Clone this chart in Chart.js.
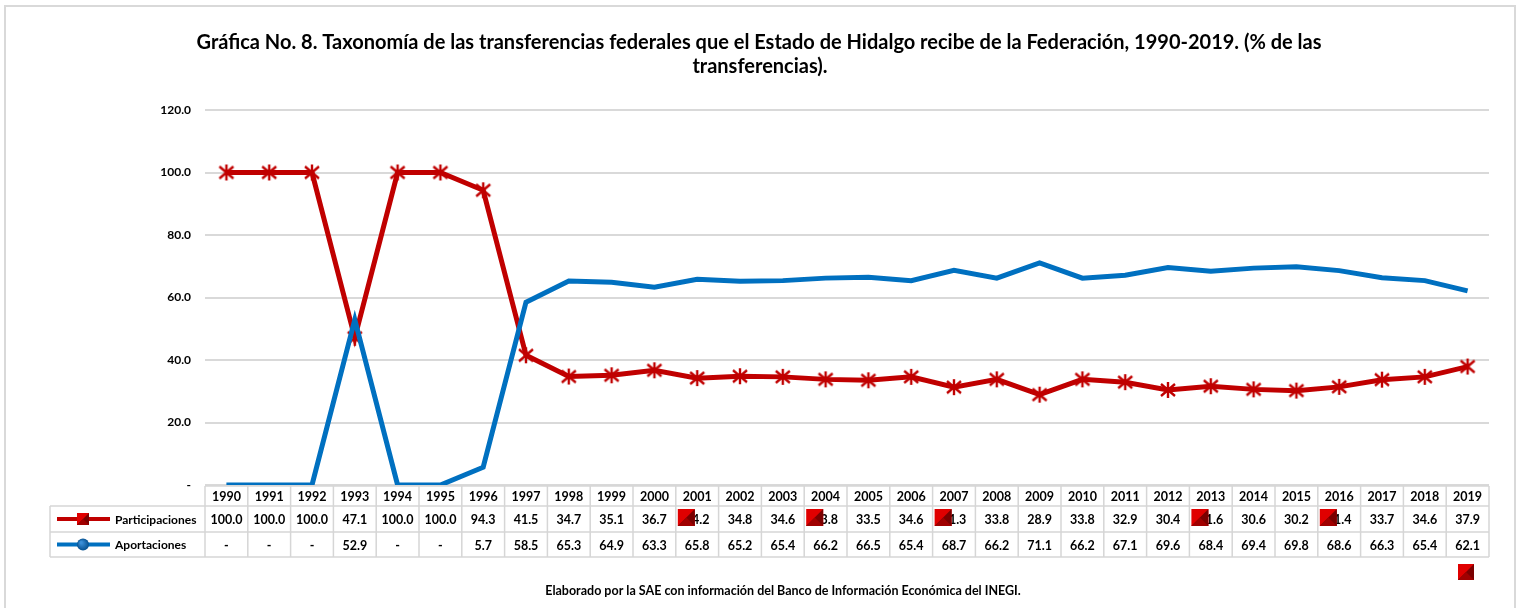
<!DOCTYPE html>
<html>
<head>
<meta charset="utf-8">
<script src="https://cdn.jsdelivr.net/npm/chart.js@4"></script>
<style>
  body { margin: 0; background: #fff; }
  #wrap { width: 1523px; height: 608px; }
</style>
</head>
<body>
<div id="wrap"><canvas id="transfChart" width="1523" height="608"></canvas></div>
<script>
const years = ['1990','1991','1992','1993','1994','1995','1996','1997','1998','1999',
  '2000','2001','2002','2003','2004','2005','2006','2007','2008','2009',
  '2010','2011','2012','2013','2014','2015','2016','2017','2018','2019'];
const participaciones = [100.0, 100.0, 100.0, 47.1, 100.0, 100.0, 94.3, 41.5, 34.7, 35.1,
  36.7, 34.2, 34.8, 34.6, 33.8, 33.5, 34.6, 31.3, 33.8, 28.9,
  33.8, 32.9, 30.4, 31.6, 30.6, 30.2, 31.4, 33.7, 34.6, 37.9];
const aportaciones = [0, 0, 0, 52.9, 0, 0, 5.7, 58.5, 65.3, 64.9,
  63.3, 65.8, 65.2, 65.4, 66.2, 66.5, 65.4, 68.7, 66.2, 71.1,
  66.2, 67.1, 69.6, 68.4, 69.4, 69.8, 68.6, 66.3, 65.4, 62.1];
const yMin = 0, yMax = 120, yStep = 20;
// cells where the stray excel legend marker sits on top of the value
const coveredCells = ['2001', '2004', '2007', '2013', '2016'];

const titleLines = ['Gráfica No. 8. Taxonomía de las transferencias federales que el Estado de Hidalgo recibe de la Federación, 1990-2019. (% de las',
  'transferencias).'];
const sourceNote = 'Elaborado por la SAE con información del Banco de Información Económica del INEGI.';

const RED = '#C00000';
const BLUE = '#0070C0';
const FONT = 'Lato, "Open Sans", sans-serif';

const fmt = v => (v === 0 ? '-' : v.toFixed(1));

// asterisk marker (x + vertical stroke)
const star = document.createElement('canvas');
star.width = 18; star.height = 18;
(() => {
  const c = star.getContext('2d');
  c.strokeStyle = RED; c.lineWidth = 2.4;
  c.beginPath();
  c.moveTo(2, 3); c.lineTo(16, 15);
  c.moveTo(16, 3); c.lineTo(2, 15);
  c.moveTo(9, 1); c.lineTo(9, 17);
  c.stroke();
})();

function redSquare(ctx, x, y, s) {
  ctx.fillStyle = '#E00000';
  ctx.fillRect(x, y, s, s);
  ctx.fillStyle = '#7A0000';
  ctx.beginPath();
  ctx.moveTo(x + s, y); ctx.lineTo(x + s, y + s); ctx.lineTo(x, y + s);
  ctx.lineTo(x + s / 2, y + s / 2); ctx.closePath(); ctx.fill();
  ctx.fillStyle = '#A00000';
  ctx.beginPath();
  ctx.moveTo(x, y + s); ctx.lineTo(x + s / 2, y + s / 2); ctx.lineTo(x + s, y + s);
  ctx.closePath(); ctx.fill();
}

const frameAndTable = {
  id: 'frameAndTable',
  beforeDraw(chart) {
    const ctx = chart.ctx;
    ctx.save();
    ctx.fillStyle = '#fff';
    ctx.fillRect(0, 0, chart.width, chart.height);
    ctx.strokeStyle = '#d9d9d9';
    ctx.lineWidth = 2;
    ctx.strokeRect(5, 6, 1510, 640);

    // title (centred on the frame, not on the plot)
    ctx.fillStyle = '#000';
    ctx.font = 'bold 20px ' + FONT;
    ctx.textAlign = 'center';
    ctx.textBaseline = 'middle';
    ctx.fillText(titleLines[0], 759, 43);
    ctx.fillText(titleLines[1], 760, 67);
    ctx.restore();
  },
  afterDraw(chart) {
    const ctx = chart.ctx;
    const xs = chart.scales.x;
    const area = chart.chartArea;
    const half = (xs.getPixelForValue(1) - xs.getPixelForValue(0)) / 2;
    const top = area.bottom + 1;
    const r1 = top + 20, r2 = r1 + 26, r3 = r2 + 25;
    const left = 50;

    ctx.save();
    ctx.strokeStyle = '#d6d6d6';
    ctx.lineWidth = 1.5;
    ctx.beginPath();
    ctx.moveTo(area.left, top); ctx.lineTo(area.right, top);
    ctx.moveTo(left, r1); ctx.lineTo(area.right, r1);
    ctx.moveTo(left, r2); ctx.lineTo(area.right, r2);
    ctx.moveTo(left, r3); ctx.lineTo(area.right, r3);
    ctx.moveTo(left, r1); ctx.lineTo(left, r3);
    ctx.moveTo(area.left, top); ctx.lineTo(area.left, r3);
    years.forEach((y, i) => {
      const xr = xs.getPixelForValue(i) + half;
      ctx.moveTo(xr, top); ctx.lineTo(xr, r3);
    });
    ctx.stroke();

    ctx.fillStyle = '#000';
    ctx.font = 'bold 12.5px ' + FONT;
    ctx.textAlign = 'center';
    ctx.textBaseline = 'middle';
    years.forEach((y, i) => {
      const cx = xs.getPixelForValue(i);
      ctx.fillText(y, cx, (top + r1) / 2 + 1);
      ctx.fillText(fmt(participaciones[i]), cx, (r1 + r2) / 2 + 1);
      ctx.fillText(fmt(aportaciones[i]), cx, (r2 + r3) / 2 + 1);
    });

    // series keys in the first column
    const ky1 = (r1 + r2) / 2, ky2 = (r2 + r3) / 2;
    ctx.lineWidth = 4;
    ctx.strokeStyle = RED;
    ctx.beginPath(); ctx.moveTo(57, ky1); ctx.lineTo(110, ky1); ctx.stroke();
    redSquare(ctx, 77, ky1 - 6, 12);
    ctx.strokeStyle = BLUE;
    ctx.beginPath(); ctx.moveTo(57, ky2); ctx.lineTo(110, ky2); ctx.stroke();
    const g = ctx.createRadialGradient(81, ky2 - 2, 1, 83, ky2, 6);
    g.addColorStop(0, '#3a8fd8'); g.addColorStop(1, '#05508f');
    ctx.fillStyle = g;
    ctx.beginPath(); ctx.arc(83, ky2, 6, 0, Math.PI * 2); ctx.fill();

    ctx.fillStyle = '#000';
    ctx.textAlign = 'left';
    ctx.font = 'bold 12px ' + FONT;
    ctx.fillText('Participaciones', 115, ky1 + 1);
    ctx.fillText('Aportaciones', 115, ky2 + 1);

    // stray markers over some values
    coveredCells.forEach(y => {
      const i = years.indexOf(y);
      redSquare(ctx, xs.getPixelForValue(i) - half + 2, r1 + 3, 17);
    });
    redSquare(ctx, 1458, 564, 16);

    // source note
    ctx.fillStyle = '#000';
    ctx.font = 'bold 12.5px ' + FONT;
    ctx.textAlign = 'center';
    ctx.fillText(sourceNote, 783, 591);
    ctx.restore();
  }
};

const ctx = document.getElementById('transfChart').getContext('2d');
new Chart(ctx, {
  type: 'line',
  data: {
    labels: years,
    datasets: [
      {
        label: 'Participaciones',
        data: participaciones,
        borderColor: RED,
        backgroundColor: RED,
        borderWidth: 5,
        pointStyle: star,
        pointRadius: 8,
        tension: 0,
        order: 1
      },
      {
        label: 'Aportaciones',
        data: aportaciones,
        borderColor: BLUE,
        backgroundColor: BLUE,
        borderWidth: 5,
        pointRadius: 0,
        tension: 0,
        order: 0
      }
    ]
  },
  options: {
    responsive: false,
    animation: false,
    layout: { padding: { left: 145, right: 34, top: 110, bottom: 123 } },
    plugins: {
      legend: { display: false },
      tooltip: { enabled: false },
      title: { display: false }
    },
    scales: {
      x: {
        display: false,
        offset: true
      },
      y: {
        min: yMin,
        max: yMax,
        afterFit: s => { s.width = 60; },
        border: { display: false },
        grid: { color: '#d9d9d9', lineWidth: 2, drawTicks: false },
        ticks: {
          stepSize: yStep,
          padding: 14,
          color: '#000',
          font: { family: FONT, size: 12, weight: 'bold' },
          callback: v => fmt(v)
        }
      }
    }
  },
  plugins: [frameAndTable]
});
</script>
</body>
</html>
